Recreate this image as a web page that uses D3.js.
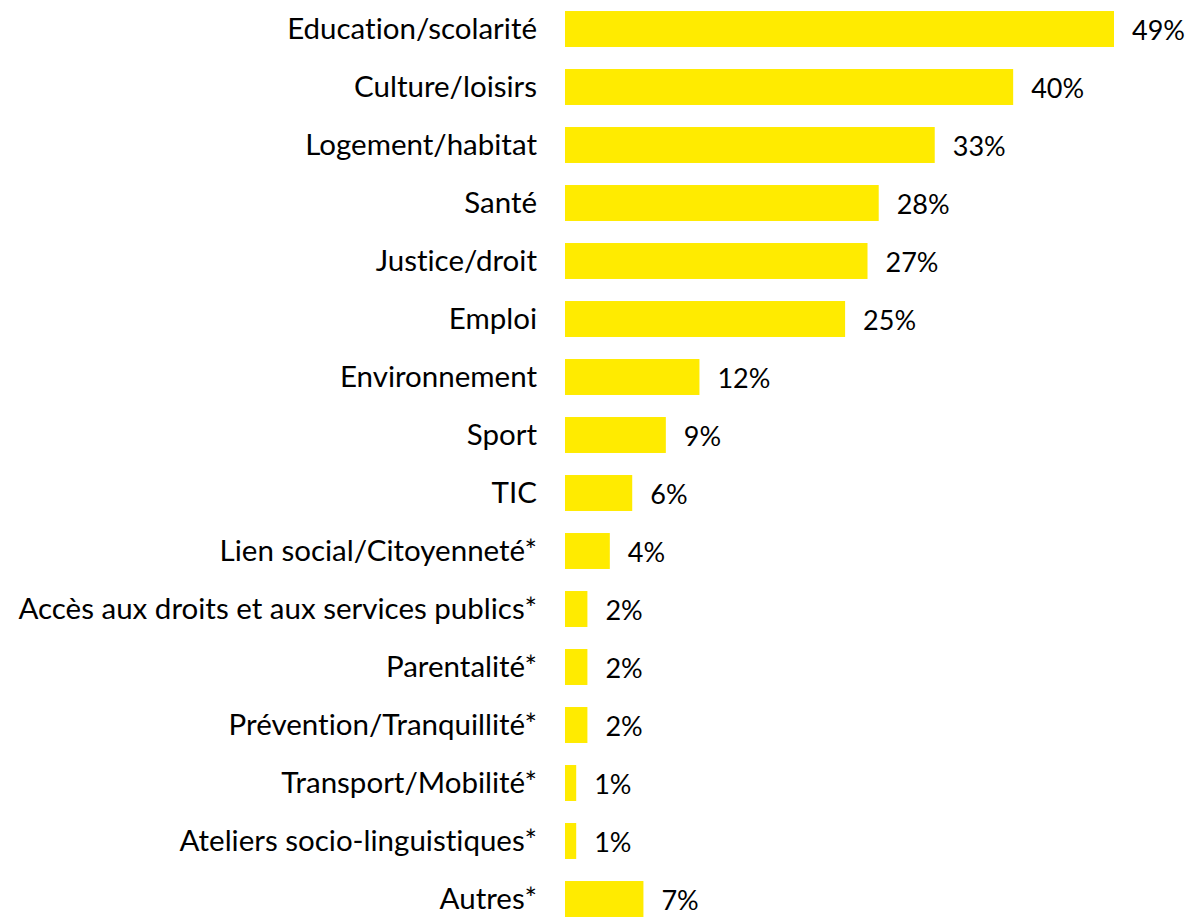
<!DOCTYPE html>
<html>
<head>
<meta charset="utf-8">
<script src="https://cdn.jsdelivr.net/npm/d3@7"></script>
<style>
  body { margin: 0; background: #fff; }
  text { font-family: Lato, "Open Sans", sans-serif; fill: #000; font-variant-ligatures: none; }
</style>
</head>
<body>
<div id="container"></div>
<script>
/* DATA */
const categories = [
  "Education/scolarité", "Culture/loisirs", "Logement/habitat", "Santé",
  "Justice/droit", "Emploi", "Environnement", "Sport", "TIC",
  "Lien social/Citoyenneté*", "Accès aux droits et aux services publics*",
  "Parentalité*", "Prévention/Tranquillité*", "Transport/Mobilité*",
  "Ateliers socio-linguistiques*", "Autres*"
];
const values = [49, 40, 33, 28, 27, 25, 12, 9, 6, 4, 2, 2, 2, 1, 1, 7];

/* CONSTANTS */
const width = 1190,
  height = 917,
  margin = { left: 565, right: 76 };

const data = categories.map((c, i) => ({ cat: c, val: values[i] }));

const svg = d3.select("#container").append("svg")
  .attr("width", width)
  .attr("height", height);

const yScale = d3.scaleBand()
  .domain(categories)
  .range([0, 928])
  .paddingInner(0.38)
  .paddingOuter(0.19);

const xScale = d3.scaleLinear()
  .domain([0, 49])
  .range([margin.left, 1114]);

svg.selectAll(".bar")
  .data(data)
  .join("rect")
  .attr("class", "bar")
  .attr("x", xScale(0))
  .attr("y", d => yScale(d.cat))
  .attr("width", d => xScale(d.val) - xScale(0))
  .attr("height", yScale.bandwidth())
  .attr("fill", "#FFEB00");

// category labels
svg.selectAll(".cat")
  .data(data)
  .join("text")
  .attr("class", "cat")
  .attr("x", 537)
  .attr("y", d => yScale(d.cat) + yScale.bandwidth() / 2)
  .attr("dy", "0.35em")
  .attr("text-anchor", "end")
  .style("font-size", "29.5px")
  .text(d => d.cat);

// value labels
svg.selectAll(".val")
  .data(data)
  .join("text")
  .attr("class", "val")
  .attr("x", d => xScale(d.val) + 18)
  .attr("y", d => yScale(d.cat) + yScale.bandwidth() / 2 + 2)
  .attr("dy", "0.35em")
  .style("font-size", "27px")
  .text(d => d.val + "%");
</script>
</body>
</html>
